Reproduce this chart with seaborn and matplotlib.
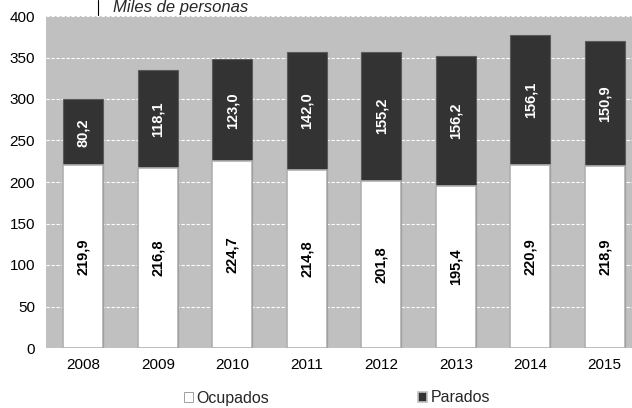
import pandas as pd
import numpy as np
import matplotlib
matplotlib.use("Agg")
import matplotlib.pyplot as plt
import seaborn as sns
from matplotlib.patches import Patch

years = ["2008", "2009", "2010", "2011", "2012", "2013", "2014", "2015"]
ocupados = [219.9, 216.8, 224.7, 214.8, 201.8, 195.4, 220.9, 218.9]
parados = [80.2, 118.1, 123.0, 142.0, 155.2, 156.2, 156.1, 150.9]

data = pd.DataFrame({"year": years, "Ocupados": ocupados, "Parados": parados})
data["total"] = data["Ocupados"] + data["Parados"]

sns.set_style("white")
plt.rcParams['font.family'] = ['Liberation Sans', 'DejaVu Sans']

fig = plt.figure(figsize=(6.32, 4.08), dpi=100)
ax = fig.add_axes([46 / 632, 60 / 408, 596 / 632, 332 / 408])
ax.set_facecolor("#c0c0c0")

# stacked bars: total in dark, ocupados in white on top of it
sns.barplot(data=data, x="year", y="total", color="#333333", width=0.54,
            edgecolor="#5a5a5a", linewidth=0.8, saturation=1, ax=ax, zorder=3)
sns.barplot(data=data, x="year", y="Ocupados", color="white", width=0.54,
            edgecolor="#b0b0b0", linewidth=1.2, saturation=1, ax=ax, zorder=4)

def fmt(v):
    return f"{v:.1f}".replace(".", ",")

for i, row in data.iterrows():
    ax.text(i, row["Ocupados"] / 2, fmt(row["Ocupados"]), rotation=90,
            ha="center", va="center", fontsize=10.5, fontweight="bold",
            color="black", zorder=5)
    ax.text(i, row["Ocupados"] + row["Parados"] / 2, fmt(row["Parados"]),
            rotation=90, ha="center", va="center", fontsize=10.5,
            fontweight="bold", color="white", zorder=5)

ax.set_ylim(0, 400)
ax.set_yticks(np.arange(0, 401, 50))
ax.set_xlim(-0.5, 7.5)
ax.yaxis.grid(True, color="white", linestyle=(0, (3, 1.5)), linewidth=0.8, zorder=1)
ax.set_axisbelow(True)
for s in ax.spines.values():
    s.set_visible(False)
ax.tick_params(axis="both", length=0, labelsize=11, colors="black")
ax.tick_params(axis="x", pad=7)
ax.tick_params(axis="y", pad=8)
ax.set_xlabel("")
ax.set_ylabel("")

# subtitle, partly cut off at the top like in the source
fig.text(113 / 632, 1.0 - 12 / 408, "Miles de personas", fontstyle="italic",
         fontsize=12, ha="left", va="baseline")
fig.add_artist(plt.Line2D([98 / 632, 98 / 632], [1.0, 1.0 - 15 / 408],
                          color="black", linewidth=0.8))

handles = [Patch(facecolor="white", edgecolor="#909090", linewidth=0.6, label="Ocupados"),
           Patch(facecolor="#333333", edgecolor="#c0c0c0", linewidth=1.2, label="Parados")]
fig.legend(handles=handles, loc="center", bbox_to_anchor=(337 / 632, 1.0 - 398 / 408),
           ncol=2, frameon=False, fontsize=11.5, handlelength=0.55, handleheight=0.55,
           handletextpad=0.25, columnspacing=9.3)

fig.savefig("out.png", dpi=100)
